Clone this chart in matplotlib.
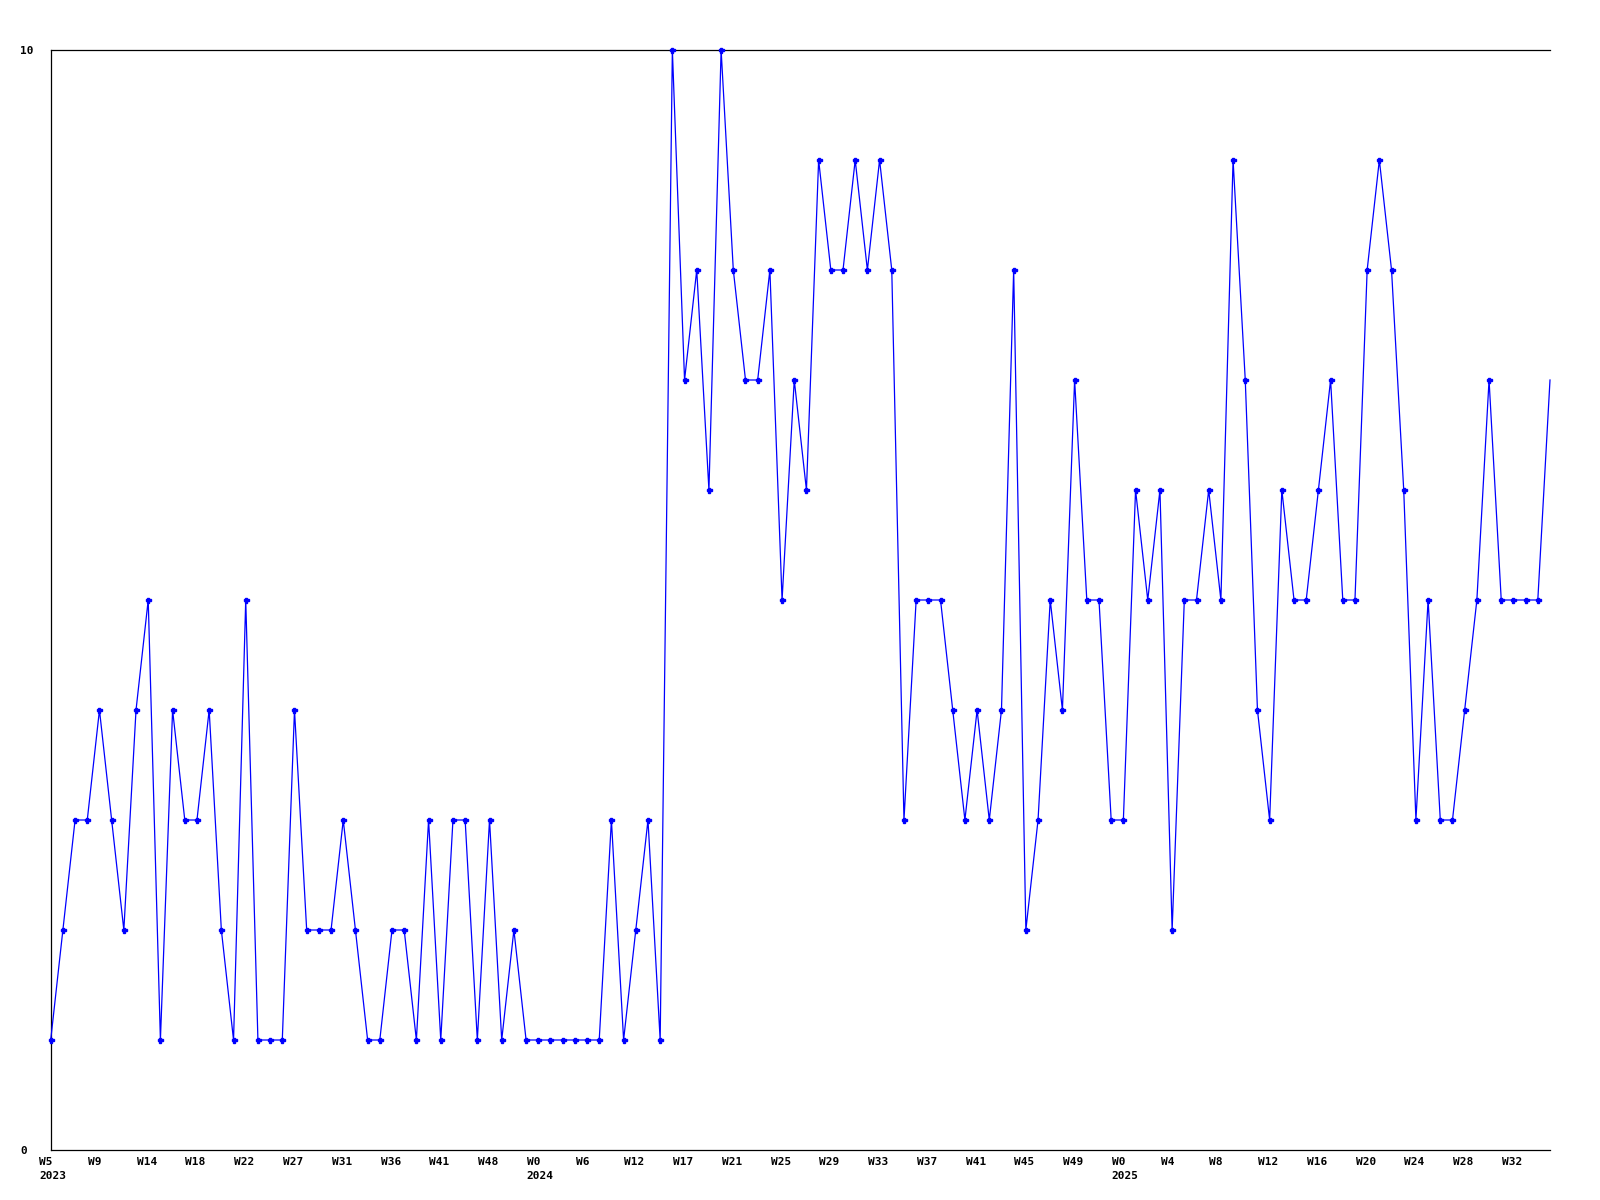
import matplotlib
matplotlib.use("Agg")
import matplotlib.pyplot as plt
import matplotlib.transforms as mtransforms
import numpy as np

# ── data (one value per week) ─────────────────────
values = [
    1, 2, 3, 3, 4, 3, 2, 4, 5, 1, 4, 3, 3, 4, 2, 1, 5, 1, 1, 1,
    4, 2, 2, 2, 3, 2, 1, 1, 2, 2, 1, 3, 1, 3, 3, 1, 3, 1, 2, 1,
    1, 1, 1, 1, 1, 1, 3, 1, 2, 3, 1,
    10, 7, 8, 6, 10, 8, 7, 7, 8, 5, 7, 6, 9, 8, 8, 9, 8, 9,
    8, 3, 5, 5, 5, 4, 3, 4, 3, 4, 8, 2, 3, 5, 4, 7, 5, 5, 3, 3,
    6, 5, 6, 2, 5, 5, 6, 5,
    9, 7, 4, 3, 6, 5, 5, 6, 7, 5, 5, 8, 9, 8, 6, 3, 5, 3, 3, 4,
    5, 7, 5, 5, 5, 5, 7,
]

week_labels = [
    "W5", "W9", "W14", "W18", "W22", "W27", "W31", "W36", "W41", "W48",
    "W0", "W6", "W12", "W17", "W21", "W25", "W29", "W33", "W37", "W41", "W45", "W49",
    "W0", "W4", "W8", "W12", "W16", "W20", "W24", "W28", "W32",
]
year_labels = {0: "2023", 10: "2024", 22: "2025"}
tick_step = 4

y_ticks = [0, 10]

# ── figure ───────────────────────────────────────
plt.rcParams["font.family"] = ["DejaVu Sans Mono"]
plt.rcParams["font.weight"] = "bold"

fig = plt.figure(figsize=(16, 12), dpi=100)
ax = fig.add_axes([50.7 / 1600, 50 / 1200, (1550 - 50.7) / 1600, 1100 / 1200])

x = np.arange(len(values))
# the last point has no marker in the original
ax.plot(x, values, color="#0000ff", lw=0.9, marker="P", ms=3.6,
        mec="#0000ff", mfc="#0000ff", clip_on=False, zorder=3,
        markevery=list(range(len(values) - 1)))

ax.set_xlim(0, len(values) - 1)
ax.set_ylim(0, 10)

# x ticks: every 4th week, year under first week of each year
tick_pos = x[::tick_step][:len(week_labels)]
tick_txt = [w + ("\n" + year_labels[i] if i in year_labels else "")
            for i, w in enumerate(week_labels)]
ax.set_xticks(tick_pos)
ax.set_xticklabels(tick_txt, fontsize=8, fontweight="bold", linespacing=1.45)
ax.tick_params(axis="x", length=0, pad=5)
shift = mtransforms.ScaledTranslation(-11.5 / 100, 0, fig.dpi_scale_trans)
for lab in ax.get_xticklabels():
    lab.set_horizontalalignment("left")
    lab.set_multialignment("left")
    lab.set_transform(lab.get_transform() + shift)

ax.set_yticks(y_ticks)
ax.set_yticklabels([str(v) for v in y_ticks], fontsize=8, fontweight="bold")
ax.tick_params(axis="y", length=0, pad=22)
for lab in ax.get_yticklabels():
    lab.set_horizontalalignment("left")

ax.spines["right"].set_visible(False)
for s in ["left", "bottom", "top"]:
    ax.spines[s].set_linewidth(0.9)
    ax.spines[s].set_color("black")

fig.savefig("out.png", dpi=100, facecolor="white")
